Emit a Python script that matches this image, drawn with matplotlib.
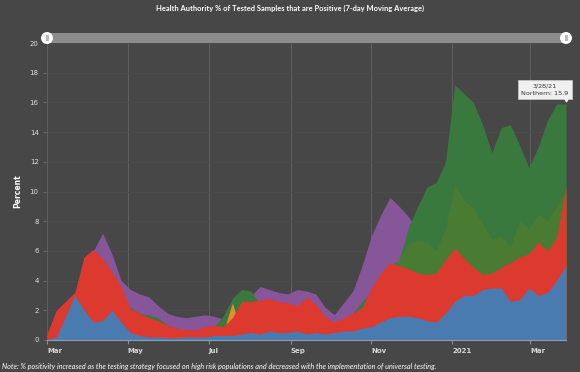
import matplotlib
matplotlib.use("Agg")
import matplotlib.pyplot as plt
from matplotlib.patches import Rectangle, Ellipse
from matplotlib.transforms import ScaledTranslation
import pandas as pd

# weekly readings, Mar 1 2020 .. Mar 28 2021
dates = pd.date_range("2020-03-01", "2021-03-28", freq="7D")

interior = [0.3, 1.0, 1.5, 2.5, 5.0, 6.0, 7.2, 5.8, 4.0, 3.4, 3.1, 2.9, 2.3, 1.8, 1.6,
            1.5, 1.6, 1.7, 1.6, 1.4, 1.6, 2.0, 3.0, 3.6, 3.4, 3.2, 3.1, 3.4, 3.3, 3.1,
            2.2, 1.7, 2.5, 3.3, 5.0, 7.0, 8.4, 9.6, 9.0, 8.3, 7.5, 7.0, 6.5, 6.5, 6.5,
            6.5, 6.5, 6.5, 6.5, 6.5, 6.5, 6.5, 6.5, 6.5, 6.5, 6.5, 6.5]
northern = [0.2, 0.5, 1.0, 1.5, 2.0, 2.5, 2.5, 2.5, 2.3, 2.2, 1.8, 1.7, 1.5, 1.0, 0.8,
            0.6, 0.6, 0.7, 0.9, 1.6, 2.8, 3.4, 3.3, 2.4, 2.0, 2.0, 1.8, 1.6, 1.5, 1.5,
            1.2, 1.0, 1.2, 1.8, 2.6, 3.2, 4.2, 5.0, 5.4, 7.6, 9.0, 10.3, 10.6, 12.0, 17.2,
            16.6, 16.0, 14.5, 12.6, 14.3, 14.5, 13.1, 11.6, 13.0, 14.8, 15.9, 15.9]
north_2 = [0.0] * 35 + [2.0, 3.5, 4.5, 5.5, 6.5, 6.7, 6.6, 6.0, 7.5, 10.5, 9.4, 8.9,
                        7.8, 6.8, 7.0, 6.3, 8.0, 7.5, 8.5, 8.0, 9.0, 10.0]
island = [0.0] * 19 + [0.5, 2.5, 0.5] + [0.0] * 35
fraser = [0.4, 2.0, 2.6, 3.2, 5.6, 6.1, 5.5, 4.6, 3.6, 2.1, 1.8, 1.5, 1.3, 1.0, 0.8,
          0.7, 0.7, 0.9, 1.0, 0.9, 1.5, 2.6, 2.6, 2.7, 2.8, 2.6, 2.5, 2.3, 2.9, 2.4,
          1.6, 1.2, 1.5, 1.8, 2.2, 3.5, 4.5, 5.2, 5.0, 4.8, 4.5, 4.4, 4.5, 5.4, 6.2,
          5.5, 4.9, 4.4, 4.5, 4.9, 5.2, 5.6, 5.8, 6.6, 6.0, 6.9, 10.3]
coastal = [0.0, 0.2, 1.6, 3.0, 2.0, 1.2, 1.3, 2.0, 1.2, 0.5, 0.3, 0.2, 0.2, 0.15, 0.15,
           0.2, 0.2, 0.2, 0.3, 0.3, 0.3, 0.4, 0.5, 0.4, 0.6, 0.5, 0.5, 0.6, 0.4, 0.5,
           0.4, 0.5, 0.6, 0.6, 0.8, 0.9, 1.2, 1.5, 1.6, 1.6, 1.5, 1.3, 1.2, 1.8, 2.6,
           3.0, 3.0, 3.4, 3.5, 3.5, 2.6, 2.7, 3.5, 3.0, 3.2, 4.0, 5.0]

series = [(interior, "#87559a"), (northern, "#3a793d"), (north_2, "#4a7b33"),
          (island, "#e0902a"), (fraser, "#dc3a2f"), (coastal, "#4a7bb0")]

tick_dates = pd.to_datetime(["2020-03-01", "2020-05-01", "2020-07-01", "2020-09-01",
                             "2020-11-01", "2021-01-01", "2021-03-01"])
tick_labels = ["Mar", "May", "Jul", "Sep", "Nov", "2021", "Mar"]

bg = "#474747"
fig = plt.figure(figsize=(5.8, 3.72), dpi=100, facecolor=bg)
ax = fig.add_axes([47 / 580, 32 / 372, 519 / 580, 297 / 372], facecolor=bg)

for i, (vals, col) in enumerate(series):
    ax.fill_between(dates, 0, vals, color=col, lw=0, zorder=2 + i)

ax.set_xlim(dates[0], dates[-1])
ax.set_ylim(0, 20)
ax.set_yticks(range(0, 21, 2))
ax.set_xticks(tick_dates)
ax.set_xticklabels(tick_labels, ha="left", fontweight="bold")
for lab in ax.get_xticklabels():
    lab.set_transform(lab.get_transform() + ScaledTranslation(2 / 100, 0, fig.dpi_scale_trans))
ax.tick_params(axis="x", colors="#8f8f8f", labelcolor="#d8d8d8", labelsize=5, length=3, pad=3)
ax.tick_params(axis="y", colors="#666666", labelcolor="#e0e0e0", labelsize=5, length=3, pad=3)
ax.grid(axis="x", color="#5e5e5e", lw=0.8, zorder=1)
ax.grid(axis="y", color="#4c4c4c", lw=0.6, zorder=1)
for s in ["top", "right", "left"]:
    ax.spines[s].set_visible(False)
ax.spines["bottom"].set_color("#8aa0b8")
ax.spines["bottom"].set_zorder(10)
ax.set_ylabel("Percent", color="white", fontsize=5.5, fontweight="bold", labelpad=5)

# tooltip for the last point
ax.annotate("3/28/21\nNorthern: 15.9", xy=(dates[-1], northern[-1]), xytext=(-21, 8),
            textcoords="offset pixels", ha="center", va="bottom", fontsize=4.6,
            color="#333333", linespacing=1.7, zorder=20,
            bbox=dict(boxstyle="square,pad=0.5", fc="#f0f0f0", ec="#cccccc", lw=0.5))
ax.plot([dates[-1]], [northern[-1] + 0.35], marker="v", ms=3.5, color="#f0f0f0",
        zorder=21, clip_on=False)

# range slider on top
fig.add_artist(Rectangle((47 / 580, 1 - 43 / 372), 519 / 580, 10 / 372,
                         transform=fig.transFigure, color="#8c8c8c", lw=0))
for px in [47, 566]:
    fig.add_artist(Ellipse((px / 580, 1 - 38 / 372), 12 / 580, 12 / 372,
                           transform=fig.transFigure, color="white", lw=0))
    fig.add_artist(Rectangle(((px - 1.5) / 580, 1 - 41 / 372), 3 / 580, 6 / 372,
                             transform=fig.transFigure, color="#bbbbbb", lw=0))

fig.text(0.5, 1 - 8 / 372, "Health Authority % of Tested Samples that are Positive (7-day Moving Average)",
         ha="center", va="center", color="white", fontsize=5.4, fontweight="bold", family="Lato")
fig.text(2 / 580, 6 / 372, "Note: % positivity increased as the testing strategy focused on high risk populations "
         "and decreased with the implementation of universal testing.",
         ha="left", va="center", color="white", fontsize=5.2, style="italic", family="Lato")

fig.savefig("out.png", dpi=100, facecolor=bg)
